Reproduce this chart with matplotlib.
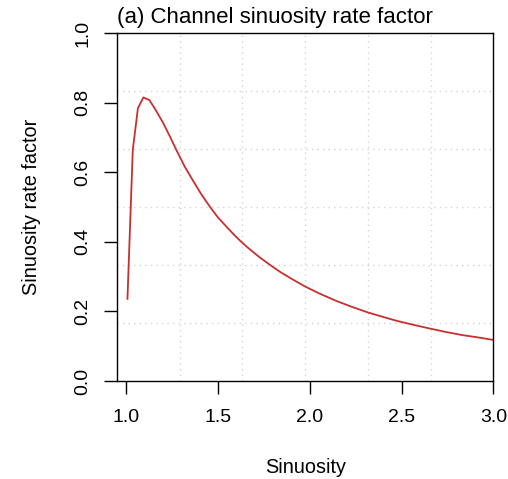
import numpy as np
import matplotlib
matplotlib.use('Agg')
import matplotlib.pyplot as plt

plt.rcParams['font.family'] = ['Liberation Sans', 'DejaVu Sans']

# values
sinuosity = [1.007, 1.036, 1.064, 1.094, 1.127, 1.165, 1.203, 1.239, 1.275,
             1.32, 1.366, 1.41, 1.457, 1.50, 1.547, 1.59, 1.629, 1.674,
             1.728, 1.78, 1.837, 1.90, 1.973, 2.05, 2.145, 2.23, 2.317, 2.40,
             2.48, 2.56, 2.652, 2.74, 2.83, 2.92, 3.0]
rate_factor = [0.236, 0.664, 0.784, 0.815, 0.807, 0.775, 0.740, 0.702, 0.662,
               0.615, 0.574, 0.536, 0.500, 0.470, 0.443, 0.419, 0.399, 0.378,
               0.355, 0.335, 0.314, 0.294, 0.272, 0.252, 0.230, 0.213, 0.197,
               0.184, 0.172, 0.162, 0.151, 0.141, 0.132, 0.125, 0.118]

x_ticks = [1.0, 1.5, 2.0, 2.5, 3.0]
y_ticks = [0.0, 0.2, 0.4, 0.6, 0.8, 1.0]
x_lim = (0.95, 3.0)
y_lim = (0.0, 1.0)

fig = plt.figure(figsize=(5.08, 4.79), dpi=100)
ax = fig.add_axes([0.2303, 0.2046, 0.7408, 0.7265])

# R style grid(6, 6): equally spaced cells over the plot region
for gx in np.linspace(x_lim[0], x_lim[1], 7)[1:-1]:
    ax.axvline(gx, color='#D3D3D3', lw=1, ls=(0, (1, 3)), zorder=0)
for gy in np.linspace(y_lim[0], y_lim[1], 7)[1:-1]:
    ax.axhline(gy, color='#D3D3D3', lw=1, ls=(0, (1, 3)), zorder=0)

ax.plot(sinuosity, rate_factor, color='#C8302F', lw=1.3)

ax.set_xlim(x_lim)
ax.set_ylim(y_lim)
ax.set_xticks(x_ticks)
ax.set_yticks(y_ticks)
ax.set_xticklabels(['%.1f' % v for v in x_ticks])
ax.set_yticklabels(['%.1f' % v for v in y_ticks], rotation=90, va='center')
ax.tick_params(axis='both', length=9.5, width=1, labelsize=14, color='black')
ax.tick_params(axis='x', pad=11)
ax.tick_params(axis='y', pad=9)
for s in ax.spines.values():
    s.set_linewidth(1)

ax.set_xlabel('Sinuosity', fontsize=14.3, va='center')
ax.xaxis.set_label_coords(0.5, -0.25)
ax.set_ylabel('Sinuosity rate factor', fontsize=14.3, va='center')
ax.yaxis.set_label_coords(-0.226, 0.5)
ax.set_title('(a) Channel sinuosity rate factor', loc='left', fontsize=16, pad=7)

fig.savefig('out.png', dpi=100)
